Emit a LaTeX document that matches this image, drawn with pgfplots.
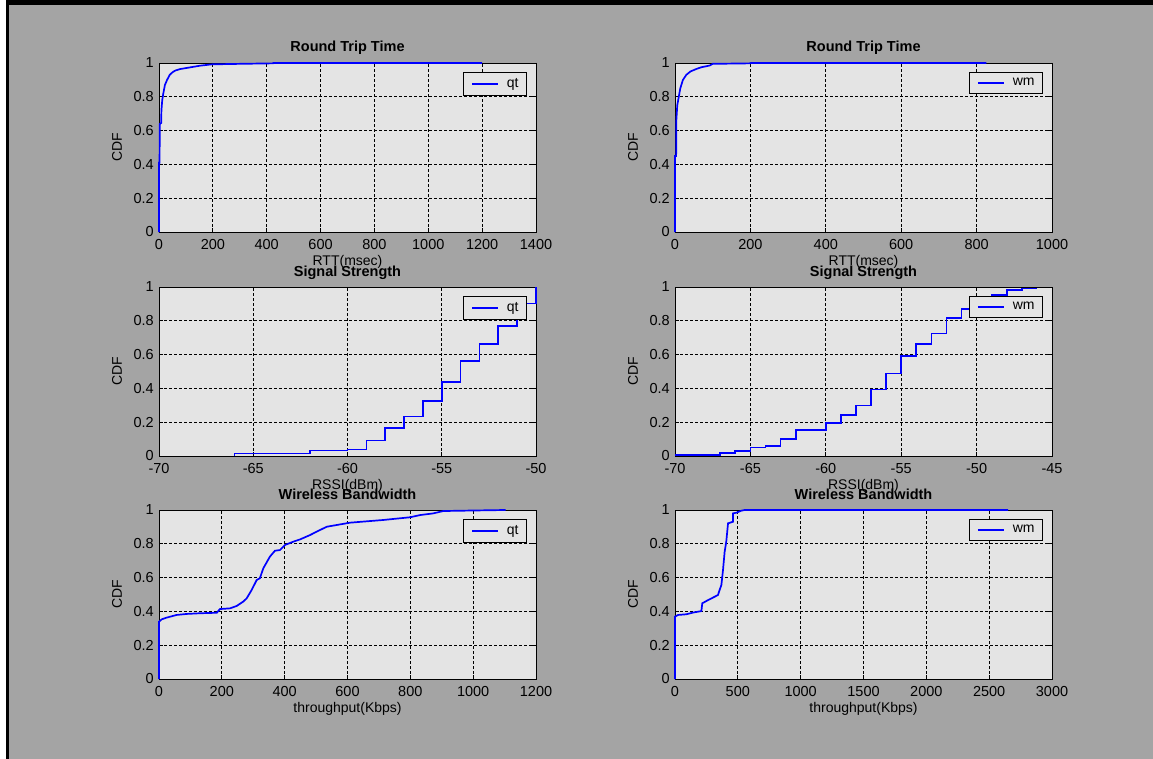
\documentclass[border=0pt]{standalone}
\usepackage{fontspec}
\setmainfont{Liberation Sans}
\usepackage{pgfplots}
\pgfplotsset{compat=1.18}
\definecolor{figbg}{RGB}{164,164,164}
\definecolor{axbg}{RGB}{228,228,228}
\definecolor{mblue}{RGB}{0,0,255}
\pgfplotsset{
 mpanel/.style={
  scale only axis, width=377pt, height=169pt,
  anchor=south west,
  axis background/.style={fill=axbg},
  axis line style={black, line width=0.9pt},
  grid=major,
  major grid style={black, line width=0.9pt, dash pattern=on 3pt off 2pt},
  tick align=inside, tick pos=both,
  major tick length=4pt,
  every tick/.style={black, line width=0.9pt},
  ymin=0, ymax=1, ytick={0,0.2,0.4,0.6,0.8,1},
  /pgf/number format/assume math mode=true,
  /pgf/number format/1000 sep={},
  tick label style={font=\fontsize{14.5}{14.5}\selectfont},
  xticklabel style={anchor=base, yshift=-17pt},
  yticklabel style={anchor=east, xshift=-1.7pt},
  title style={font=\bfseries\fontsize{14.5}{14.5}\selectfont, at={(axis description cs:0.5,1)}, anchor=base, yshift=5pt},
  label style={font=\fontsize{14}{14}\selectfont},
  xlabel style={at={(axis description cs:0.5,-0.175)}, anchor=center},
  ylabel style={at={(axis description cs:-0.111,0.5)}, anchor=center},
  ylabel={CDF},
  clip=false,
  legend style={at={(axis description cs:1,1)}, anchor=north east, xshift=-9pt, yshift=-9pt, fill=axbg, draw=black, line width=0.9pt, inner xsep=8pt, inner ysep=6pt, nodes={inner sep=0pt, font=\fontsize{14}{14}\selectfont}},
  legend image code/.code={\draw[#1] (0pt,0pt) -- (26pt,0pt); \path (34pt,0pt);},
 },
 cdfline/.style={mblue, line width=1.7pt},
}
\begin{document}
\begin{tikzpicture}
\useasboundingbox (0,0) rectangle (1153pt,-759pt);
\fill[white] (0,0) rectangle (1153pt,-759pt);
\fill[figbg] (6pt,0) rectangle (1153pt,-759pt);
\fill[black] (6pt,0) rectangle (1153pt,-4.7pt);
\fill[black] (6pt,0) rectangle (9pt,-759pt);

% Top left
\begin{axis}[mpanel, at={(159pt,-232pt)}, title={Round Trip Time}, xlabel={RTT(msec)},
  xmin=0, xmax=1400, xtick={0,200,400,600,800,1000,1200,1400}]
\addplot[cdfline] coordinates {(0,0)(0,0.41)(2,0.41)(3,0.64)(8,0.645)(9,0.72)(12,0.78)(16,0.82)(22,0.87)(30,0.9)(40,0.93)(50,0.945)(60,0.955)(78,0.964)(115,0.974)(152,0.984)(196,0.992)(300,0.995)(424,0.998)(425,1)(1200,1)};
\addlegendentry{qt\hspace{9pt}}
\end{axis}

% Top right
\begin{axis}[mpanel, at={(675pt,-232pt)}, title={Round Trip Time}, xlabel={RTT(msec)},
  xmin=0, xmax=1000, xtick={0,200,400,600,800,1000}]
\addplot[cdfline] coordinates {(0,0)(0,0.45)(3,0.45)(3.5,0.66)(6,0.75)(10,0.8)(14,0.85)(21,0.9)(30,0.93)(41,0.95)(57,0.965)(70,0.975)(92,0.985)(100,0.995)(200,0.998)(201,1)(826,1)};
\addlegendentry{wm\hspace{9pt}}
\end{axis}

% Middle left
\begin{axis}[mpanel, at={(159pt,-456pt)}, title={Signal Strength}, xlabel={RSSI(dBm)},
  xmin=-70, xmax=-50, xtick={-70,-65,-60,-55,-50}]
\addplot[cdfline, const plot] coordinates {(-66,0)(-66,0.014)(-62,0.033)(-60,0.039)(-59,0.092)(-58,0.167)(-57,0.234)(-56,0.326)(-55,0.438)(-54,0.564)(-53,0.662)(-52,0.77)(-51,0.902)(-50,1)};
\addlegendentry{qt\hspace{9pt}}
\end{axis}

% Middle right
\begin{axis}[mpanel, at={(675pt,-456pt)}, title={Signal Strength}, xlabel={RSSI(dBm)},
  xmin=-70, xmax=-45, xtick={-70,-65,-60,-55,-50,-45}]
\addplot[cdfline, const plot] coordinates {(-70,0.008)(-67,0.018)(-66,0.029)(-65,0.051)(-64,0.061)(-63,0.1)(-62,0.155)(-60,0.195)(-59,0.244)(-58,0.299)(-57,0.393)(-56,0.489)(-55,0.591)(-54,0.662)(-53,0.725)(-52,0.815)(-51,0.868)(-50,0.915)(-49,0.953)(-48,0.982)(-47,0.992)(-46,0.992)};
\addlegendentry{wm\hspace{9pt}}
\end{axis}

% Bottom left
\begin{axis}[mpanel, at={(159pt,-679pt)}, title={Wireless Bandwidth}, xlabel={throughput(Kbps)},
  xmin=0, xmax=1200, xtick={0,200,400,600,800,1000,1200}]
\addplot[cdfline] coordinates {(0,0)(0,0.339)(8.5,0.353)(24,0.363)(56,0.379)(88,0.385)(130,0.389)(184,0.392)(194,0.414)(226,0.418)(247,0.432)(268,0.458)(279,0.477)(295,0.527)(311,0.586)(321,0.596)(332,0.655)(353,0.724)(369,0.759)(385,0.763)(401,0.793)(428,0.813)(449,0.826)(481,0.852)(502,0.872)(534,0.901)(608,0.925)(661,0.933)(714,0.941)(799,0.957)(831,0.970)(873,0.98)(905,0.994)(1000,0.997)(1103,1)};
\addlegendentry{qt\hspace{9pt}}
\end{axis}

% Bottom right
\begin{axis}[mpanel, at={(675pt,-679pt)}, title={Wireless Bandwidth}, xlabel={throughput(Kbps)},
  xmin=0, xmax=3000, xtick={0,500,1000,1500,2000,2500,3000}]
\addplot[cdfline] coordinates {(0,0)(0,0.369)(24,0.379)(90,0.383)(143,0.393)(210,0.402)(217,0.448)(263,0.467)(316,0.487)(342,0.497)(355,0.527)(369,0.556)(382,0.645)(395,0.753)(408,0.813)(422,0.921)(462,0.931)(462,0.98)(488,0.984)(528,0.996)(554,1)(2650,1)};
\addlegendentry{wm\hspace{9pt}}
\end{axis}
\end{tikzpicture}
\end{document}
